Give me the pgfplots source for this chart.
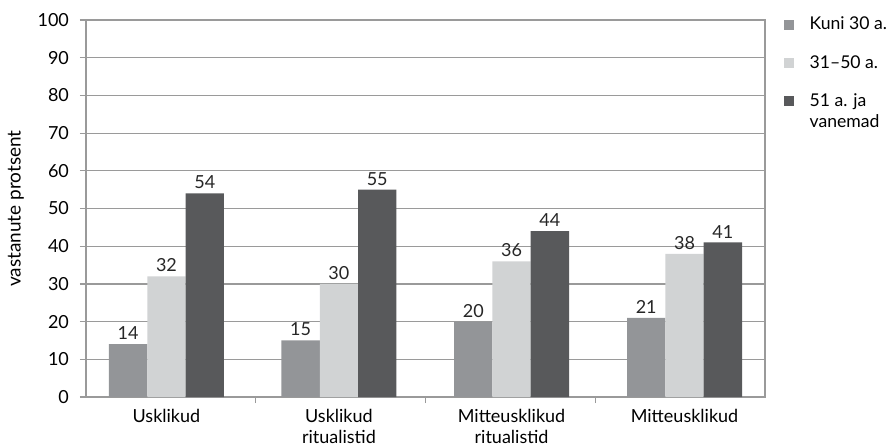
\documentclass[border=0pt]{standalone}
\usepackage{pgfplots}
\pgfplotsset{compat=1.18}
\usepackage{fontspec}
\setmainfont{Lato}
\definecolor{cA}{HTML}{939598}
\definecolor{cB}{HTML}{D1D3D4}
\definecolor{cC}{HTML}{58595B}
\definecolor{axgray}{HTML}{9A9A9A}
\pgfplotsset{
  raisedleg/.style={legend image code/.code={\fill[##1] (0pt,2.75pt) rectangle (5pt,7.75pt);}},
}
\begin{document}
\begin{tikzpicture}
\useasboundingbox (-43pt,-25pt) rectangle (401pt,198.5pt);
\begin{axis}[
  at={(0pt,0pt)}, anchor=south west,
  scale only axis, width=339.5pt, height=188.5pt,
  ybar,
  xmin=-0.5, xmax=3.5, ymin=0, ymax=100,
  ytick={0,10,...,100},
  xtick={-0.026,0.990,2.007,3.026},
  xticklabels={Usklikud, {Usklikud\\ritualistid}, {Mitteusklikud\\ritualistid}, Mitteusklikud},
  xticklabel style={align=center, font=\fontsize{9}{10.5}\selectfont, yshift=0.5pt},
  yticklabel style={font=\fontsize{9}{10.5}\selectfont, xshift=-2pt},
  /pgf/number format/assume math mode=true,
  minor xtick={0.5,1.5,2.5},
  major x tick style={draw=none},
  minor tick length=3pt, major tick length=3pt,
  tick align=outside,
  xtick pos=bottom, ytick pos=left,
  ymajorgrids,
  grid style={axgray, line width=0.6pt},
  axis line style={axgray, line width=0.6pt},
  every tick/.style={axgray, line width=0.6pt},
  every minor tick/.style={axgray, line width=0.6pt},
  ylabel={vastanute protsent},
  ylabel style={font=\fontsize{9.5}{11}\selectfont},
  bar width=0.2257,
  nodes near coords,
  nodes near coords style={font=\fontsize{9}{10.5}\selectfont, text=black!85, inner sep=2pt},
  legend image code/.code={\fill[#1] (0pt,-2.5pt) rectangle (5pt,2.5pt);},
  legend cell align=left,
  legend style={draw=none, fill=none, at={(rel axis cs:1.018,1.03)}, anchor=north west,
     font=\fontsize{8.8}{10.4}\selectfont, row sep=7.2pt,
     cells={align=left},
     /tikz/every odd column/.append style={column sep=6pt}},
]
\addplot[fill=cA, draw=none, bar shift=-0.2257] coordinates {(-0.026,14) (0.990,15) (2.007,20) (3.026,21)};
\addplot[fill=cB, draw=none, bar shift=0] coordinates {(-0.026,32) (0.990,30) (2.007,36) (3.026,38)};
\addplot[fill=cC, draw=none, bar shift=0.2257, raisedleg] coordinates {(-0.026,54) (0.990,55) (2.007,44) (3.026,41)};
\legend{Kuni 30 a., 31--50 a., {51 a. ja\\vanemad}}
\end{axis}
\end{tikzpicture}
\end{document}
